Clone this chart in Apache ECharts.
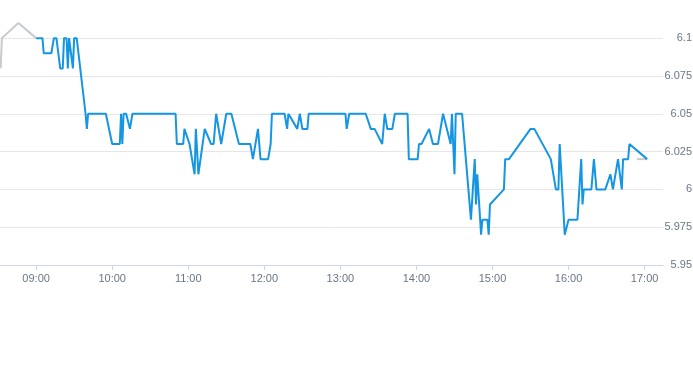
<!DOCTYPE html>
<html><head><meta charset="utf-8">
<script src="https://cdn.jsdelivr.net/npm/echarts@6/dist/echarts.min.js"></script>
<style>html,body{margin:0;padding:0;background:#fff}#c{width:693px;height:365px}</style>
</head><body><div id="c"></div>
<script>
const preTimes = ['08:32','08:33','08:46','09:00'];
const preValues = [6.08, 6.10, 6.11, 6.10];

const times = ['09:00','09:05','09:06','09:12','09:14','09:16','09:19','09:21','09:22','09:24',
'09:25','09:26','09:27','09:29','09:30','09:32','09:39','09:40','09:41','09:55',
'10:00','10:06','10:07','10:08','10:09','10:11','10:14','10:16','10:50','10:51',
'10:56','10:57','11:01','11:05','11:06','11:08','11:09','11:13','11:14','11:18',
'11:20','11:22','11:26','11:30','11:34','11:40','11:49','11:51','11:55','11:57',
'12:03','12:05','12:06','12:16','12:18','12:19','12:26','12:28','12:30','12:34',
'12:35','13:04','13:05','13:07','13:20','13:24','13:27','13:33','13:35','13:37',
'13:41','13:43','13:53','13:54','14:01','14:02','14:04','14:10','14:13','14:17',
'14:21','14:27','14:28','14:29','14:30','14:31','14:36','14:43','14:46','14:47',
'14:48','14:51','14:52','14:56','14:57','14:58','15:09','15:10','15:13','15:30',
'15:33','15:46','15:50','15:52','15:53','15:57','15:58','16:00','16:07','16:10',
'16:11','16:12','16:18','16:20','16:22','16:29','16:33','16:35','16:39','16:42',
'16:43','16:47','16:48','17:02'];
const prices = [6.10,6.10,6.09,6.09,6.10,6.10,6.08,6.08,6.10,6.10,
6.08,6.10,6.10,6.08,6.10,6.10,6.05,6.04,6.05,6.05,
6.03,6.03,6.05,6.03,6.05,6.05,6.04,6.05,6.05,6.03,
6.03,6.04,6.03,6.01,6.04,6.01,6.01,6.04,6.04,6.03,
6.03,6.05,6.03,6.05,6.05,6.03,6.03,6.02,6.04,6.02,
6.02,6.03,6.05,6.05,6.04,6.05,6.04,6.05,6.04,6.04,
6.05,6.05,6.04,6.05,6.05,6.04,6.04,6.03,6.05,6.04,
6.04,6.05,6.05,6.02,6.02,6.03,6.03,6.04,6.03,6.03,
6.05,6.03,6.05,6.03,6.01,6.05,6.05,5.98,6.02,5.99,
6.01,5.97,5.98,5.98,5.97,5.99,6.00,6.02,6.02,6.04,
6.04,6.02,6.00,6.00,6.03,5.97,5.97,5.98,5.98,6.02,
5.99,6.00,6.00,6.02,6.00,6.00,6.01,6.00,6.02,6.00,
6.02,6.02,6.03,6.02];

const postTimes = ['16:54','17:02'];
const postValues = [6.02, 6.02];

const xTickLabels = ['09:00','10:00','11:00','12:00','13:00','14:00','15:00','16:00','17:00'];
const xRange = ['08:31:30','17:14:30'];
const yRange = [5.95, 6.11];
const yStep = 0.025;

function toMin(s){const p=s.split(':').map(Number);return p[0]*60+p[1]+(p[2]||0)/60;}
function fmt(m){const h=Math.floor(m/60),mm=Math.round(m-h*60);return (h<10?'0':'')+h+':'+(mm<10?'0':'')+mm;}
const pair=(ts,vs)=>ts.map((t,i)=>[toMin(t),vs[i]]);
const tickVals = xTickLabels.map(toMin);
const labelStyle = {color:'#6a7686', fontSize:11, fontFamily:'"Liberation Sans", Arial, sans-serif'};

const chart = echarts.init(document.getElementById('c'), null, {renderer:'canvas'});
chart.setOption({
  animation:false,
  grid:{left:0, right:30, top:23, bottom:100, containLabel:false, outerBoundsMode:'none'},
  xAxis:{
    type:'value', min:toMin(xRange[0]), max:toMin(xRange[1]),
    axisLine:{show:true, lineStyle:{color:'#ccd6eb'}},
    axisTick:{show:true, customValues:tickVals, length:5, lineStyle:{color:'#ccd6eb'}},
    axisLabel:Object.assign({customValues:tickVals, margin:8, formatter:v=>fmt(v)}, labelStyle),
    splitLine:{show:false}
  },
  yAxis:{
    type:'value', position:'right', min:yRange[0], max:yRange[1], interval:yStep,
    axisLine:{show:false}, axisTick:{show:false},
    axisLabel:Object.assign({align:'right', margin:29, showMaxLabel:false}, labelStyle),
    splitLine:{show:true, showMaxLine:false, lineStyle:{color:'#e6e6e6'}}
  },
  series:[
    {type:'line', data:pair(preTimes,preValues), showSymbol:false, lineStyle:{color:'#c6cbd0', width:2}, itemStyle:{color:'#c6cbd0'}},
    {type:'line', data:pair(postTimes,postValues), showSymbol:false, lineStyle:{color:'#c6cbd0', width:2}, itemStyle:{color:'#c6cbd0'}},
    {type:'line', data:pair(times,prices), showSymbol:false, lineStyle:{color:'#1596e3', width:2}, itemStyle:{color:'#1596e3'}}
  ]
});
</script>
</body></html>
